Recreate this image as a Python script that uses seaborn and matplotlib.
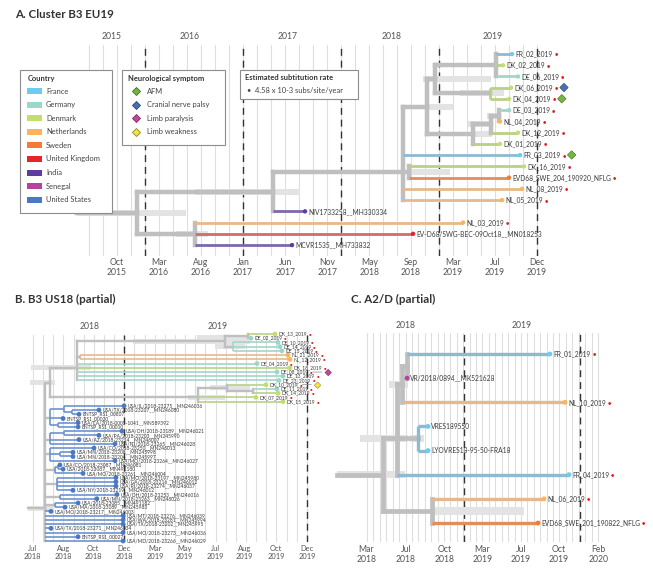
import numpy as np
import pandas as pd
import matplotlib
matplotlib.use("Agg")
import matplotlib.pyplot as plt
import matplotlib.patheffects as pe
from matplotlib.patches import Rectangle
from matplotlib.lines import Line2D
import seaborn as sns

sns.set_style("white")
plt.rcParams["font.family"] = ["Lato", "DejaVu Sans"]

nan = np.nan

# ---------------- legend / colours ----------------
country_names = ["France", "Germany", "Denmark", "Netherlands", "Sweden",
                 "United Kingdom", "India", "Senegal", "United States"]
country_codes = ["FR", "DE", "DK", "NL", "SE", "UK", "IN", "SN", "US"]
country_colors = ["#6ccbee", "#99d8c9", "#c2df6b", "#fdb35a", "#f47a35",
                  "#e8232a", "#5a3d9e", "#b5439c", "#4979c6"]
branch_colors = ["#8dbad0", "#a3d6c9", "#b9d183", "#e6b98b", "#e48c5c",
                 "#d46a6a", "#7b67b0", "#b5439c", "#6d93d3"]

symptom_names = ["AFM", "Cranial nerve palsy", "Limb paralysis", "Limb weakness"]
symptom_colors = ["#78b444", "#4a70ad", "#c2479b", "#f3e444"]
symptom_edges = ["#3c6b1c", "#2a4676", "#7a2a62", "#8d8424"]

rate_text = "4.58 x 10-3 subs/site/year"

# ---------------- panel A: cluster B3 EU19 ----------------
a_tip_names = ["FR_02_2019", "DK_02_2019", "DE_06_2019", "DK_06_2019", "DK_04_2019",
               "DE_03_2019", "NL_04_2019", "DK_12_2019", "DK_01_2019", "FR_03_2019",
               "DK_16_2019", "EVD68_SWE_204_190920_NFLG", "NL_08_2019", "NL_05_2019",
               "NIV1733258__MH330334", "NL_03_2019", "EV-D68/SWG-BEC-09Oct18__MN018253",
               "MCVR1535__MH733832"]
a_tip_dates = [2019.745, 2019.653, 2019.806, 2019.735, 2019.714, 2019.714, 2019.622,
               2019.806, 2019.622, 2019.827, 2019.867, 2019.714, 2019.847, 2019.643,
               2017.633, 2019.245, 2018.735, 2017.500]
a_tip_country = ["FR", "DK", "DE", "DK", "DK", "DE", "NL", "DK", "DK", "FR", "DK", "SE",
                 "NL", "NL", "IN", "NL", "UK", "IN"]
a_tip_parent = ["r7", "r7", "r7", "r8", "r8", "r12", "r12", "r11", "r10", "r4", "r9", "r9",
                "r4", "r4", "r2", "r3", "r3", "r3"]
a_study = [True, True, True, True, True, True, True, True, True, True, True, True, True,
           True, False, True, False, False]
a_symptom = {"DK_06_2019": "Cranial nerve palsy", "DK_04_2019": "AFM", "FR_03_2019": "AFM"}

a_node_names = ["r0", "r1", "r2", "r3", "r4", "r5", "r6", "r7", "r8", "r9", "r10", "r11", "r12"]
a_node_dates = [2015.306, 2015.918, 2017.306, 2016.510, 2018.633, 2018.878, 2018.959,
                2019.582, 2019.520, 2018.694, 2019.347, 2019.531, 2019.612]
a_node_parent = [None, "r0", "r1", "r1", "r2", "r4", "r5", "r6", "r6", "r4", "r5", "r10", "r11"]
a_hpd_low = [nan, 2015.306, 2016.510, 2016.316, nan, 2018.860, 2018.837, nan, 2019.214,
             2018.724, 2019.347, 2019.296, 2019.490]
a_hpd_high = [nan, 2016.418, 2017.582, 2016.643, nan, 2019.143, 2019.531, nan, 2019.663,
              2019.112, 2019.541, 2019.541, 2019.622]

a_ticks = [2015.71, 2016.14, 2016.57, 2017.0, 2017.43, 2017.86, 2018.29, 2018.71,
           2019.14, 2019.57, 2020.0]
a_tick_labels = ["Oct\n2015", "Mar\n2016", "Aug\n2016", "Jan\n2017", "Jun\n2017", "Nov\n2017",
                 "May\n2018", "Sep\n2018", "Mar\n2019", "Jul\n2019", "Dec\n2019"]
a_year_pos = [2015.66, 2016.46, 2017.45, 2018.52, 2019.55]
a_years = ["2015", "2016", "2017", "2018", "2019"]

# ---------------- panel B: B3 US18 (partial) ----------------
b_tip_names = [
    "DK_13_2019", "DE_02_2019", "DE_10_2019", "DE_14_2019", "DE_15_2019", "NL_21_2019",
    "NL_12_2019", "DE_04_2019", "DK_18_2019", "DE_08_2019", "DE_13_2019", "DE_23_2019",
    "DK_10_2019", "DE_11_2019", "DK_14_2019", "DK_07_2019", "DK_15_2019",
    "USA/IL/2018-23275__MN246036", "USA/TX/2018-23207__MN246080", "ENTSP_RS1_00807",
    "ENTSP_RS1_00020", "USA/CA/2018-0005-1041__MN589392", "ENTSP_RS1_00010",
    "USA/OH/2018-23189__MN246021", "USA/PA/2018-23203__MN245990",
    "USA/AZ/2018-23214__MN246007", "USA/NJ/2018-23265__MN246028",
    "USA/CO/2018-23250__MN246013", "USA/MN/2018-23208__MN245998",
    "USA/MN/2018-23204__MN245997", "USA/MO/2018-23264__MN246027",
    "USA/CO/2018-23087__MN246081", "USA/2018-23087__MN491180",
    "USA/MO/2018-23261__MN246004", "USA/MO/2018-23197__MN245980",
    "USA/GA/2018-23216__MN246012", "USA/RI/2018-23274__MN246037",
    "USA/NY/2018-23219__MN246012", "USA/OH/2018-23253__MN246016",
    "USA/MN/2018-23263__MN246026", "USA/2018-23085__MN491182",
    "USA/MA/2018-23089__MN245983", "USA/MO/2018-23217__MN246003",
    "USA/MT/2018-23276__MN246039", "USA/WA/2018-23281__MN245994",
    "USA/TX/2018-23202__MN245995", "USA/TX/2018-23271__MN246034",
    "USA/MO/2018-23273__MN246036", "ENTSP_RS1_00027", "USA/MD/2018-23266__MN246029"]
b_tip_dates = [2019.825, 2019.694, 2019.842, 2019.852, 2019.863, 2019.896, 2019.907,
               2019.727, 2019.907, 2019.836, 2019.869, 2019.847, 2019.776, 2019.836,
               2019.842, 2019.721, 2019.869,
               2019.000, 2018.863, 2018.754, 2018.667, 2018.749, 2018.749, 2018.989,
               2018.863, 2018.754, 2018.951, 2018.836, 2018.721, 2018.721, 2018.951,
               2018.650, 2018.667, 2018.776, 2018.956, 2018.956, 2018.956, 2018.721,
               2018.962, 2018.852, 2018.749, 2018.678, 2018.601, 2018.995, 2018.995,
               2018.995, 2018.601, 2018.995, 2018.749, 2018.995]
b_tip_country = ["DK", "DE", "DE", "DE", "DE", "NL", "NL", "DE", "DK", "DE", "DE", "DE",
                 "DK", "DE", "DK", "DK", "DK"] + ["US"] * 33
b_tip_parent = ["bU5", "bU5", "bU6", "bU6", "bU6", "bNL", "bNL", "bU1", "bU1", "bU1", "bU1",
                "bU1", "bU7", "bU8", "bU8", "bU2", "bU2",
                "ga", "gb", "gb", "g1", "gc", "gc", "gd", "gd", "g2", "g2", "g3", "ge", "ge",
                "g3", "gf", "gf", "g4", "g5", "g5", "g5", "g5", "g6", "g6", "g7", "g7",
                "b1", "b1", "b1", "b1", "b1", "b1", "b1", "b1"]
b_study = [True] * 17 + [False] * 33
b_symptom = {"DE_08_2019": "Limb paralysis", "DK_10_2019": "Limb weakness"}

b_node_names = ["b0", "b1", "bU", "bU1", "bU4", "bU5", "bU6", "bNL", "bU2", "bU7", "bU8",
                "g1", "ga", "gb", "gc", "g2", "gd", "g3", "ge", "g4", "gf", "g5", "g6", "g7"]
b_node_dates = [2018.475, 2018.568, 2018.596, 2018.743, 2019.552, 2019.678, 2019.596,
                2018.760, 2019.404, 2019.563, 2019.705, 2018.596, 2018.672, 2018.716,
                2018.639, 2018.596, 2018.672, 2018.596, 2018.650, 2018.623, 2018.639,
                2018.634, 2018.650, 2018.623]
b_node_parent = [None, "b0", "b1", "bU", "bU1", "bU4", "bU4", "bU1", "bU", "bU2", "bU7",
                 "b1", "g1", "ga", "g1", "b1", "g2", "b1", "g3", "b1", "g4", "b1", "b1", "b1"]
b_hpd_low = [nan, 2018.475, 2018.486, 2018.490, 2019.049, 2019.399, 2019.497, nan,
             2019.350, 2019.470, nan, nan, nan, nan, nan, nan, nan, nan, nan, nan, nan,
             nan, nan, nan]
b_hpd_high = [nan, 2018.612, 2018.623, 2018.820, 2019.689, 2019.689, 2019.661, nan,
              2019.552, 2019.689, nan, nan, nan, nan, nan, nan, nan, nan, nan, nan, nan,
              nan, nan, nan]

b_ticks = [2018.50, 2018.67, 2018.83, 2019.0, 2019.17, 2019.33, 2019.50, 2019.66, 2019.83, 2020.0]
b_tick_labels = ["Jul\n2018", "Aug\n2018", "Oct\n2018", "Dec\n2018", "Mar\n2019", "May\n2019",
                 "Jul\n2019", "Aug\n2019", "Oct\n2019", "Dec\n2019"]
b_year_pos = [2018.81, 2019.51]
b_years = ["2018", "2019"]

# ---------------- panel C: A2/D (partial) ----------------
c_tip_names = ["FR_01_2019", "VR/2018/0894__MK521628", "NL_10_2019", "VRES189550",
               "LYOVRES18-95-50-FRA18", "FR_04_2019", "NL_06_2019", "EVD68_SWE_201_190822_NFLG"]
c_tip_dates = [2019.741, 2018.509, 2019.871, 2018.690, 2018.690, 2019.905, 2019.690, 2019.638]
c_tip_country = ["FR", "SN", "NL", "FR", "FR", "FR", "NL", "SE"]
c_tip_parent = ["c4", "c4", "c3", "c5", "c5", "c2", "c6", "c6"]
c_study = [True, False, True, False, False, True, True, True]
c_symptom = {}

c_node_names = ["c0", "c1", "c2", "c3", "c4", "c5", "c6"]
c_node_dates = [2017.905, 2018.302, 2018.422, 2018.466, 2018.509, 2018.603, 2018.724]
c_node_parent = [None, "c0", "c1", "c2", "c3", "c2", "c1"]
c_hpd_low = [nan, 2017.905, 2018.103, 2018.353, nan, 2018.534, 2018.724]
c_hpd_high = [nan, 2018.491, 2018.517, 2018.517, nan, 2018.655, 2019.517]

c_ticks = [2018.16, 2018.50, 2018.83, 2019.16, 2019.49, 2019.82, 2020.16]
c_tick_labels = ["Mar\n2018", "Jul\n2018", "Oct\n2018", "Mar\n2019", "Jul\n2019",
                 "Oct\n2019", "Feb\n2020"]
c_year_pos = [2018.5, 2019.5]
c_years = ["2018", "2019"]

# ---------------- drawing ----------------
GRAY = "#bfbfbf"
LIGHT = "#e3e3e3"
GRID = "#dedede"
TXT = "#3a3a3a"
RED = "#e31a1c"
dot_pal = dict(zip(country_codes, country_colors))
br_pal = dict(zip(country_codes, branch_colors))
sym_col = dict(zip(symptom_names, symptom_colors))
sym_edge = dict(zip(symptom_names, symptom_edges))

W, H = 653, 570
fig = plt.figure(figsize=(W / 100, H / 100), dpi=100)


def fx(px):
    return px / W


def fy(py):
    return 1 - py / H


def make_axes(left, top, right, bottom):
    ax = fig.add_axes([fx(left), fy(bottom), (right - left) / W, (bottom - top) / H])
    ax.set_facecolor("none")
    return ax


def set_limits(ax, left, top, right, bottom, x0px, x0val, ppy, y0px, ystep):
    # pixel layout -> data limits (x in decimal years, y in tip rows)
    ax.set_xlim(x0val + (left - x0px) / ppy, x0val + (right - x0px) / ppy)
    ax.set_ylim((bottom - y0px) / ystep, (top - y0px) / ystep)


def draw_tree(ax, tip_names, tip_dates, tip_country, tip_parent, study, symptoms,
              node_names, node_dates, node_parent, hpd_low, hpd_high,
              lw_gray, lw_col, dot_s, bar_h, label_fs, dot_fs, sym_fs, sym_link=False):
    tips = pd.DataFrame({"name": tip_names, "date": tip_dates, "country": tip_country})
    tips["y"] = np.arange(len(tips), dtype=float)
    xpos = dict(zip(tip_names, tip_dates)) | dict(zip(node_names, node_dates))
    parent = dict(zip(tip_names, tip_parent)) | dict(zip(node_names, node_parent))
    ctry = dict(zip(tip_names, tip_country))
    kids = {n: [] for n in node_names}
    for c, p in parent.items():
        if p is not None:
            kids[p].append(c)
    ypos = dict(zip(tip_names, tips["y"]))

    def get_y(n):
        if n not in ypos:
            ypos[n] = float(np.median([get_y(k) for k in kids[n]]))
        return ypos[n]

    def tip_set(n):
        if n in ctry:
            return {ctry[n]}
        return set().union(*[tip_set(k) for k in kids[n]])

    for n in node_names:
        get_y(n)
    mono = {}
    for n in node_names:
        s = tip_set(n)
        mono[n] = next(iter(s)) if len(s) == 1 else None

    # HPD bars
    nodes = pd.DataFrame({"name": node_names, "lo": hpd_low, "hi": hpd_high})
    nodes["y"] = nodes["name"].map(ypos)
    hp = nodes.dropna(subset=["lo"])
    ax.barh(hp["y"], hp["hi"] - hp["lo"], left=hp["lo"], height=bar_h, color=LIGHT,
            linewidth=0, zorder=1)

    # branches
    gy, gx0, gx1 = [], [], []
    cy, cx0, cx1, cc = [], [], [], []
    for n, p in parent.items():
        if p is None:
            continue
        if n in ctry or mono[p] is not None:
            cy.append(ypos[n]); cx0.append(xpos[p]); cx1.append(xpos[n])
            cc.append(br_pal[ctry[n]] if n in ctry else br_pal[mono[p]])
        else:
            gy.append(ypos[n]); gx0.append(xpos[p]); gx1.append(xpos[n])
    vx, vy0, vy1 = [], [], []
    mx, my0, my1, mc = [], [], [], []
    for n in node_names:
        ys = [ypos[k] for k in kids[n]]
        if len(ys) < 2:
            continue
        if mono[n] is not None:
            mx.append(xpos[n]); my0.append(min(ys)); my1.append(max(ys)); mc.append(br_pal[mono[n]])
        else:
            vx.append(xpos[n]); vy0.append(min(ys)); vy1.append(max(ys))
    ax.hlines(gy, gx0, gx1, color=GRAY, lw=lw_gray, capstyle="projecting", zorder=2, clip_on=False)
    ax.vlines(vx, vy0, vy1, color=GRAY, lw=lw_gray, capstyle="projecting", zorder=2, clip_on=False)
    ax.hlines(cy, cx0, cx1, colors=cc, lw=lw_col, zorder=3, clip_on=False)
    ax.vlines(mx, my0, my1, colors=mc, lw=lw_col, zorder=3, clip_on=False)

    sns.scatterplot(data=tips, x="date", y="y", hue="country", palette=dot_pal, s=dot_s,
                    linewidth=0, legend=False, ax=ax, zorder=5, clip_on=False)

    for name, d, yy, st in zip(tip_names, tip_dates, tips["y"], study):
        t = ax.annotate(name, xy=(d, yy), xytext=(2.4, 0), textcoords="offset points",
                        va="center", ha="left", fontsize=label_fs, color=TXT,
                        annotation_clip=False, zorder=6)
        if not st:
            continue
        r = ax.annotate("\u25cf", xy=(1, 0.5), xycoords=t, xytext=(1.2, 0),
                        textcoords="offset points", va="center", ha="left",
                        fontsize=dot_fs, color=RED, zorder=6)
        if name in symptoms:
            sy = symptoms[name]
            kw = {}
            off = 1.5
            if sym_link:
                off = 9
                kw["arrowprops"] = dict(arrowstyle="-", color="#8a8a8a", lw=0.5,
                                        shrinkA=0, shrinkB=0)
            ax.annotate("\u25c6", xy=(1, 0.5), xycoords=r, xytext=(off, 0),
                        textcoords="offset points", va="center", ha="left",
                        fontsize=sym_fs, color=sym_col[sy], zorder=7,
                        path_effects=[pe.withStroke(linewidth=0.7, foreground=sym_edge[sy])],
                        **kw)
    ax.set_xlabel("")
    ax.set_ylabel("")


def style_axes(ax, grid_start, grid_end, grid_step, dashes, ticks, tick_labels,
               year_pos, years, tick_fs, pad_bottom, pad_top):
    for g in np.arange(grid_start, grid_end + 1e-6, grid_step):
        ax.axvline(g, color=GRID, lw=0.8, zorder=0)
    for d in dashes:
        ax.axvline(d, color="#333333", lw=1.0, ls=(0, (5, 3.5)), zorder=0.5)
    sns.despine(ax=ax, left=True, bottom=True)
    ax.set_yticks([])
    ax.set_xticks(ticks, labels=tick_labels)
    ax.tick_params(axis="x", length=0, pad=pad_bottom, labelsize=tick_fs, labelcolor="#555555")
    sec = ax.secondary_xaxis("top")
    sec.set_xticks(year_pos, labels=years)
    sec.tick_params(axis="x", length=0, pad=pad_top, labelsize=6.2, labelcolor="#555555")
    for s in sec.spines.values():
        s.set_visible(False)


# panel A
A_BOX = (60, 45, 645, 256)
axA = make_axes(*A_BOX)
set_limits(axA, *A_BOX, 145, 2016.0, 98.0, 54, 11.24)
style_axes(axA, 2016 - 4 / 7, 2020.0, 1 / 7, [2016, 2017, 2018, 2019, 2020],
           a_ticks, a_tick_labels, a_year_pos, a_years, 6.2, 1.5, 2.8)
draw_tree(axA, a_tip_names, a_tip_dates, a_tip_country, a_tip_parent, a_study, a_symptom,
          a_node_names, a_node_dates, a_node_parent, a_hpd_low, a_hpd_high,
          lw_gray=3.2, lw_col=2.0, dot_s=10, bar_h=0.55, label_fs=4.8, dot_fs=4.0, sym_fs=7.5)
set_limits(axA, *A_BOX, 145, 2016.0, 98.0, 54, 11.24)

# panel B
B_BOX = (20, 335, 330, 542)
axB = make_axes(*B_BOX)
set_limits(axB, *B_BOX, 124, 2019.0, 183.0, 334, 4.224)
style_axes(axB, 2018.503, 2020.0, 0.1662 / 3, [2019, 2020],
           b_ticks, b_tick_labels, b_year_pos, b_years, 5.4, 2.0, 2.8)
draw_tree(axB, b_tip_names, b_tip_dates, b_tip_country, b_tip_parent, b_study, b_symptom,
          b_node_names, b_node_dates, b_node_parent, b_hpd_low, b_hpd_high,
          lw_gray=1.7, lw_col=1.2, dot_s=12, bar_h=1.2, label_fs=3.5, dot_fs=3.2, sym_fs=5.5,
          sym_link=True)
set_limits(axB, *B_BOX, 124, 2019.0, 183.0, 334, 4.224)

# panel C
C_BOX = (335, 333, 650, 542)
axC = make_axes(*C_BOX)
set_limits(axC, *C_BOX, 464, 2019.0, 116.0, 354, 24.14)
style_axes(axC, 2018.164, 2020.16, 0.0553, [2019, 2020],
           c_ticks, c_tick_labels, c_year_pos, c_years, 6.2, 2.0, 2.2)
draw_tree(axC, c_tip_names, c_tip_dates, c_tip_country, c_tip_parent, c_study, c_symptom,
          c_node_names, c_node_dates, c_node_parent, c_hpd_low, c_hpd_high,
          lw_gray=3.4, lw_col=2.4, dot_s=12, bar_h=0.3, label_fs=4.8, dot_fs=4.0, sym_fs=7.5)
set_limits(axC, *C_BOX, 464, 2019.0, 116.0, 354, 24.14)

# titles
fig.text(fx(15), fy(15), "A. Cluster B3 EU19", fontsize=8.3, fontweight="bold", va="center", color="#333333")
fig.text(fx(15), fy(299), "B. B3 US18 (partial)", fontsize=8.3, fontweight="bold", va="center", color="#333333")
fig.text(fx(351), fy(299), "C. A2/D (partial)", fontsize=8.3, fontweight="bold", va="center", color="#333333")


# legend boxes (figure pixel positions)
def box(l, t, r, b):
    fig.add_artist(Rectangle((fx(l), fy(b)), (r - l) / W, (b - t) / H, transform=fig.transFigure,
                             facecolor="white", edgecolor="#8c8c8c", lw=0.8, zorder=10))


LEG_FS = 5.4
box(20, 70, 112, 213)
fig.text(fx(28), fy(78), "Country", fontsize=LEG_FS, fontweight="bold", va="center", color="#333333", zorder=11)
for k, (nm, col) in enumerate(zip(country_names, country_colors)):
    yy = 91 + 13.6 * k
    fig.add_artist(Rectangle((fx(27), fy(yy + 3)), 15 / W, 6 / H, transform=fig.transFigure,
                             facecolor=col, edgecolor="none", zorder=11))
    fig.text(fx(46), fy(yy), nm, fontsize=LEG_FS, va="center", color="#444444", zorder=11)

box(122, 70, 225, 145)
fig.text(fx(128), fy(78), "Neurological symptom", fontsize=LEG_FS, fontweight="bold", va="center",
         color="#333333", zorder=11)
for k, (nm, col, ec) in enumerate(zip(symptom_names, symptom_colors, symptom_edges)):
    yy = 91 + 13.6 * k
    fig.add_artist(Line2D([fx(136)], [fy(yy)], marker="D", markersize=4.3, markerfacecolor=col,
                          markeredgecolor=ec, markeredgewidth=0.6, transform=fig.transFigure, zorder=11))
    fig.text(fx(147), fy(yy), nm, fontsize=LEG_FS, va="center", color="#444444", zorder=11)

box(240, 70, 358, 99)
fig.text(fx(245), fy(78), "Estimated subtitution rate", fontsize=LEG_FS, fontweight="bold", va="center",
         color="#333333", zorder=11)
fig.text(fx(247), fy(90), "\u2022  " + rate_text, fontsize=LEG_FS, va="center", color="#444444", zorder=11)

fig.savefig("out.png", dpi=100)
